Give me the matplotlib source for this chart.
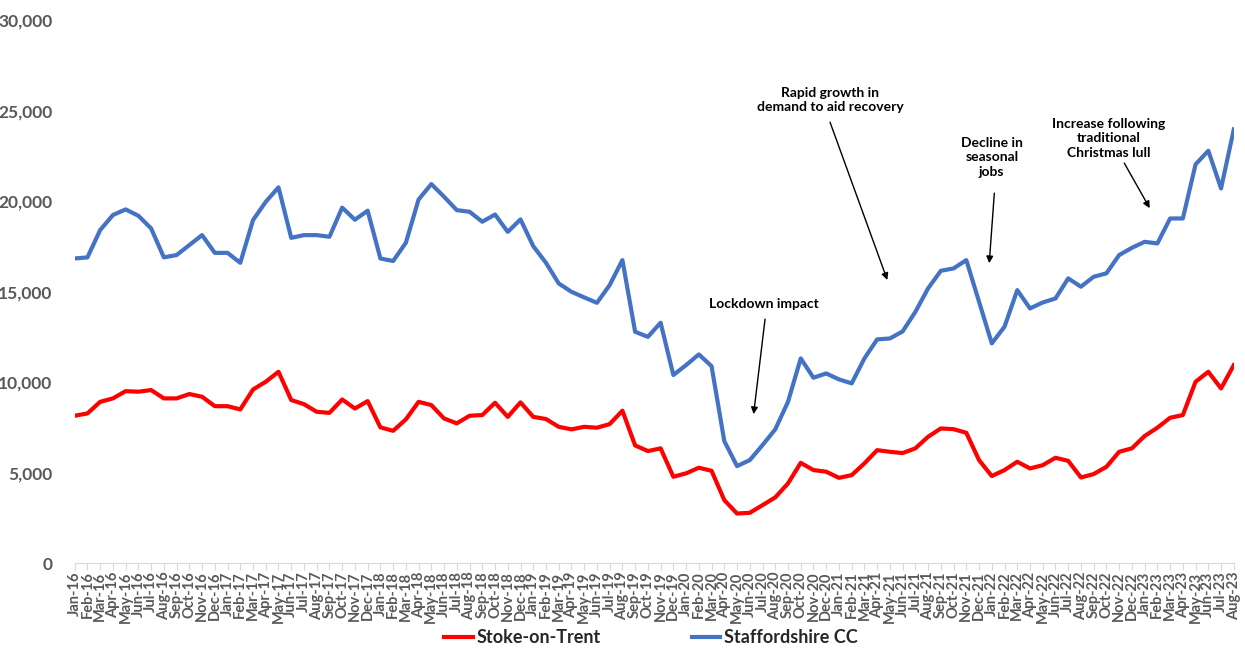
import matplotlib
matplotlib.use("Agg")
import matplotlib.pyplot as plt
import numpy as np

# monthly claimant counts, Jan-16 .. Aug-23
years = ["16", "17", "18", "19", "20", "21", "22", "23"]
months = ["Jan", "Feb", "Mar", "Apr", "May", "Jun", "Jul", "Aug", "Sep", "Oct", "Nov", "Dec"]
labels = [m + "-" + y for y in years for m in months][:92]

stoke = [8140, 8270, 8910, 9100, 9500, 9470, 9560, 9100, 9100, 9340, 9190, 8670,
         8670, 8490, 9590, 10020, 10570, 9010, 8780, 8360, 8300, 9040, 8540, 8950,
         7500, 7310, 7940, 8910, 8730, 7990, 7720, 8140, 8180, 8860, 8080, 8880,
         8080, 7960, 7530, 7390, 7530, 7480, 7680, 8420, 6500, 6190, 6340, 4770,
         4960, 5270, 5100, 3480, 2740, 2780, 3200, 3630, 4400, 5540, 5140, 5050,
         4710, 4860, 5510, 6240, 6150, 6080, 6340, 6980, 7440, 7400, 7200, 5690,
         4810, 5140, 5600, 5230, 5410, 5820, 5650, 4730, 4920, 5320, 6150, 6340,
         7020, 7480, 8030, 8180, 10020, 10570, 9650, 10940]

staffs = [16830, 16890, 18400, 19230, 19540, 19190, 18490, 16890, 17020, 17570, 18120, 17140,
          17140, 16590, 18950, 19960, 20760, 17970, 18120, 18120, 18030, 19640, 18970, 19470,
          16830, 16690, 17700, 20090, 20940, 20240, 19500, 19410, 18860, 19260, 18300, 18990,
          17510, 16590, 15450, 14990, 14680, 14380, 15360, 16740, 12780, 12500, 13280, 10390,
          10940, 11530, 10880, 6740, 5360, 5690, 6520, 7390, 8910, 11310, 10240, 10480,
          10150, 9930, 11310, 12360, 12410, 12800, 13880, 15180, 16150, 16280, 16740, 14440,
          12140, 13060, 15080, 14070, 14400, 14620, 15730, 15270, 15820, 16010, 17020, 17420,
          17750, 17660, 19040, 19040, 22030, 22780, 20700, 23960]

font = ["Lato", "DejaVu Sans"]
grey = "#595959"

fig = plt.figure(figsize=(12.45, 6.48), dpi=100)
ax = fig.add_axes([0.06, 0.131, 0.931, 0.838])

x = np.arange(len(labels))
ax.plot(x, stoke, color="#FF0000", lw=3, label="Stoke-on-Trent", solid_joinstyle="round")
ax.plot(x, staffs, color="#4472C4", lw=3, label="Staffordshire CC", solid_joinstyle="round")

ax.set_xlim(0, len(labels) - 1)
ax.set_ylim(0, 30000)
ax.set_yticks(np.arange(0, 30001, 5000))
ax.set_yticklabels([f"{v:,}" for v in range(0, 30001, 5000)],
                   fontfamily=font, fontweight="bold", fontsize=12.5, color=grey)
ax.set_xticks(x)
ax.set_xticklabels(labels, rotation=90, fontfamily=font, fontweight="bold",
                   fontsize=10.5, color=grey)
ax.tick_params(axis="y", length=0, pad=16)
ax.tick_params(axis="x", length=5, color="#D9D9D9", pad=1)

for s in ["top", "right", "left"]:
    ax.spines[s].set_visible(False)
ax.spines["bottom"].set_color("#D9D9D9")

# annotations
txt = dict(ha="center", va="center", fontfamily=font, fontweight="bold",
           fontsize=10, color="black", linespacing=1.25)
arw = dict(arrowstyle="-|>", color="black", lw=1, mutation_scale=10, shrinkA=0, shrinkB=0)

ax.text(54.1, 14310, "Lockdown impact", **txt)
ax.annotate("", xy=(53.3, 8230), xytext=(54.2, 13480), arrowprops=arw)

ax.text(59.3, 25580, "Rapid growth in\ndemand to aid recovery", **txt)
ax.annotate("", xy=(63.8, 15640), xytext=(59.3, 24360), arrowprops=arw)

ax.text(72.0, 22430, "Decline in\nseasonal\njobs", **txt)
ax.annotate("", xy=(71.8, 16570), xytext=(72.2, 20440), arrowprops=arw)

ax.text(81.2, 23480, "Increase following\ntraditional\nChristmas lull", **txt)
ax.annotate("", xy=(84.4, 19610), xytext=(82.4, 22100), arrowprops=arw)

fig.legend(loc="lower center", bbox_to_anchor=(0.523, -0.022), ncol=2, frameon=False,
           prop={"family": font, "weight": "bold", "size": 13},
           columnspacing=5, handlelength=1.6, handletextpad=0.2, labelcolor="#262626")

fig.savefig("out.png", dpi=100)
